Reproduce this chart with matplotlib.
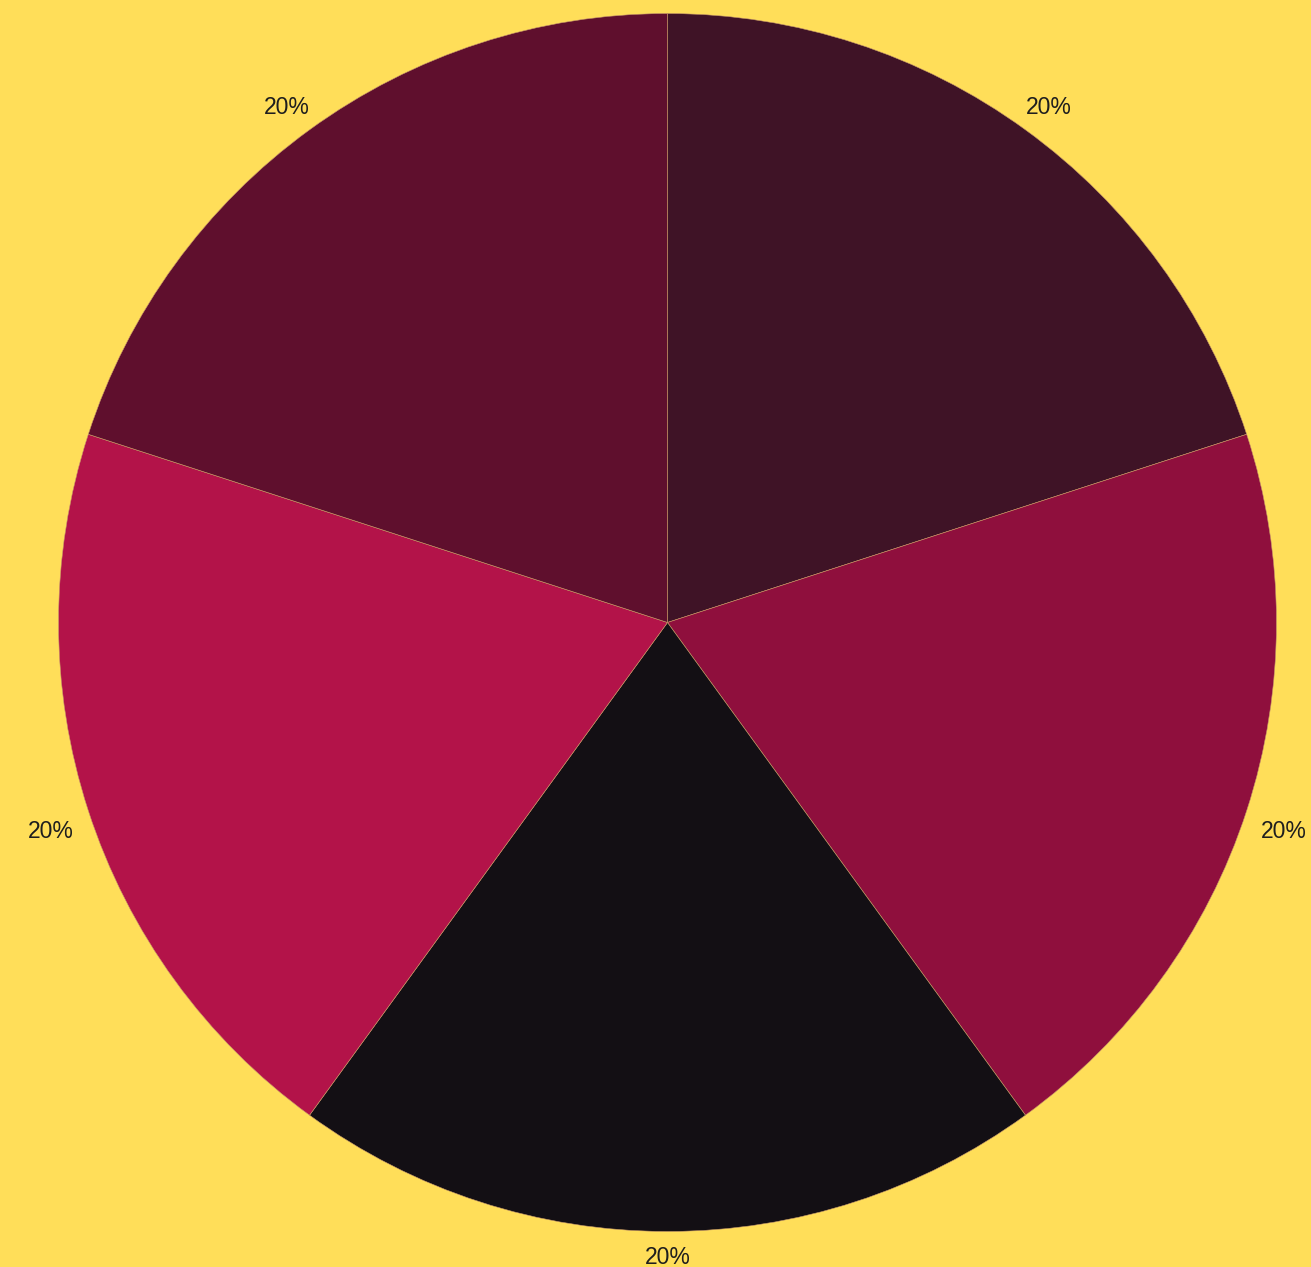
import matplotlib
matplotlib.use("Agg")
import matplotlib.pyplot as plt
import numpy as np

# Five equal shares, drawn clockwise from the top
shares = [20, 20, 20, 20, 20]
slice_colors = ["#3F1326", "#8F0F3D", "#130F14", "#B31349", "#5F0F2D"]
background = "#FFDE59"

plt.rcParams['font.family'] = ['Liberation Sans', 'DejaVu Sans']

fig = plt.figure(figsize=(13.11, 12.67), dpi=100, facecolor=background)
ax = fig.add_axes([0.04462, 0.02802, 0.92906, 0.96133])
ax.set_facecolor(background)

wedges, texts, autotexts = ax.pie(
    shares,
    colors=slice_colors,
    startangle=90,
    counterclock=False,
    autopct='%1.0f%%',
    pctdistance=1.064,
    wedgeprops=dict(edgecolor="#C89A6A", linewidth=0.4),
    textprops=dict(fontsize=16.5, color="#1E1E1E"),
)

ax.set_xlim(-1, 1)
ax.set_ylim(-1, 1)
ax.set_aspect('equal')
ax.axis('off')

# nudge labels down a little and keep them inside the canvas
to_px = ax.transData
to_data = ax.transData.inverted()
for t in autotexts:
    px, py = to_px.transform(t.get_position())
    py = max(py - 9, 9.5)
    t.set_position(tuple(to_data.transform((px, py))))

fig.savefig("out.png", dpi=100, facecolor=background)
